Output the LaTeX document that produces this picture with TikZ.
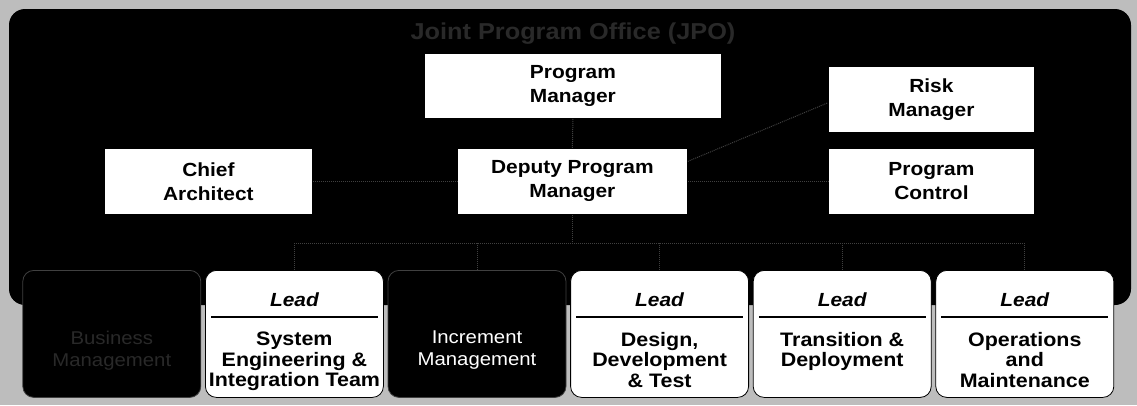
\documentclass[tikz,border=0pt]{standalone}
\usepackage{fontspec}
\setmainfont{Liberation Sans}[FakeStretch=1.1]
\usetikzlibrary{calc}
\definecolor{bggray}{gray}{0.74}
\definecolor{dimtext}{gray}{0.16}
\definecolor{dimline}{gray}{0.25}
\tikzset{
  topbox/.style={draw=black, fill=white, line width=0.8pt, anchor=north west, inner sep=0pt, align=center, font=\fontsize{19}{24}\selectfont\bfseries},
  lowbox/.style={draw=black, fill=white, line width=0.8pt, rounded corners=11pt, anchor=north west, minimum width=178pt, minimum height=127pt, inner sep=0pt},
  darkbox/.style={lowbox, fill=black, draw=dimline},
  leadtxt/.style={anchor=north, inner sep=0pt, font=\fontsize{19}{20}\selectfont\bfseries\itshape},
  maintxt/.style={anchor=north, inner sep=0pt, align=center, font=\fontsize{19.5}{20.5}\selectfont\bfseries},
  darktxt/.style={maintxt, font=\fontsize{18.5}{21.5}\selectfont},
  sepline/.style={line width=1.6pt, draw=black},
  conn/.style={draw=dimline, line width=1pt, densely dotted},
}
\begin{document}
\begin{tikzpicture}[x=1pt,y=-1pt]
\fill[bggray] (0,0) rectangle (1137,405);
\useasboundingbox (0,0) rectangle (1137,405);
\fill[black, rounded corners=16pt] (9,9) rectangle (1131,305);

\node[font=\fontsize{23}{26}\selectfont\bfseries, text=dimtext, anchor=north, inner sep=0pt] (title) at (573,23) {Joint Program Office (JPO)};

% top level boxes
\node[topbox, minimum width=297pt, minimum height=65pt] (pm) at (424,53) {Program\\Manager};
\node[topbox, minimum width=206pt, minimum height=66pt] (risk) at (828,66) {Risk\\Manager};
\node[topbox, minimum width=208pt, minimum height=66pt] (ca) at (104,148) {Chief\\Architect};
\node[topbox, minimum width=230pt, minimum height=66pt] (dpm) at (457,148) {Deputy Program\\Manager};
\node[topbox, minimum width=206pt, minimum height=66pt] (pc) at (828,148) {Program\\Control};

% bottom row
\node[darkbox] (b1) at (22.4,270) {};
\node[lowbox] (b2) at (205,270) {};
\node[darkbox] (b3) at (387.6,270) {};
\node[lowbox] (b4) at (570.2,270) {};
\node[lowbox] (b5) at (752.8,270) {};
\node[lowbox] (b6) at (935.4,270) {};

\node[darktxt, text=dimtext] (t1) at ($(b1.north)+(0,61)$) {Business\\Management};
\node[darktxt, text=white] (t3) at ($(b3.north)+(0,61)$) {Increment\\Management};

\node[leadtxt] (l2) at ($(b2.north)+(0,23)$) {Lead};
\draw[sepline] ($(b2.north west)+(6,47)$) -- ($(b2.north east)+(-6,47)$);
\node[maintxt] (t2) at ($(b2.north)+(0,62)$) {System\\Engineering \&\\Integration Team};

\node[leadtxt] (l4) at ($(b4.north)+(0,23)$) {Lead};
\draw[sepline] ($(b4.north west)+(6,47)$) -- ($(b4.north east)+(-6,47)$);
\node[maintxt] (t4) at ($(b4.north)+(0,62)$) {Design,\\Development\\\& Test};

\node[leadtxt] (l5) at ($(b5.north)+(0,23)$) {Lead};
\draw[sepline] ($(b5.north west)+(6,47)$) -- ($(b5.north east)+(-6,47)$);
\node[maintxt] (t5) at ($(b5.north)+(0,62)$) {Transition \&\\Deployment};

\node[leadtxt] (l6) at ($(b6.north)+(0,23)$) {Lead};
\draw[sepline] ($(b6.north west)+(6,47)$) -- ($(b6.north east)+(-6,47)$);
\node[maintxt] (t6) at ($(b6.north)+(0,62)$) {Operations\\and\\Maintenance};

% connectors
\coordinate (bus) at (0,243);
\draw[conn] (pm.south) -- (dpm.north);
\draw[conn] (ca.east) -- (dpm.west);
\draw[conn] (dpm.east) -- (pc.west);
\draw[conn] ($(dpm.north east)!0.2!(dpm.south east)$) -- ($(risk.north west)!0.55!(risk.south west)$);
\draw[conn] (dpm.south) -- (dpm.south |- bus);
\draw[conn] (b2.north |- bus) -- (b6.north |- bus);
\foreach \b in {b2,b3,b4,b5,b6} \draw[conn] (\b.north |- bus) -- (\b.north);
\end{tikzpicture}
\end{document}
